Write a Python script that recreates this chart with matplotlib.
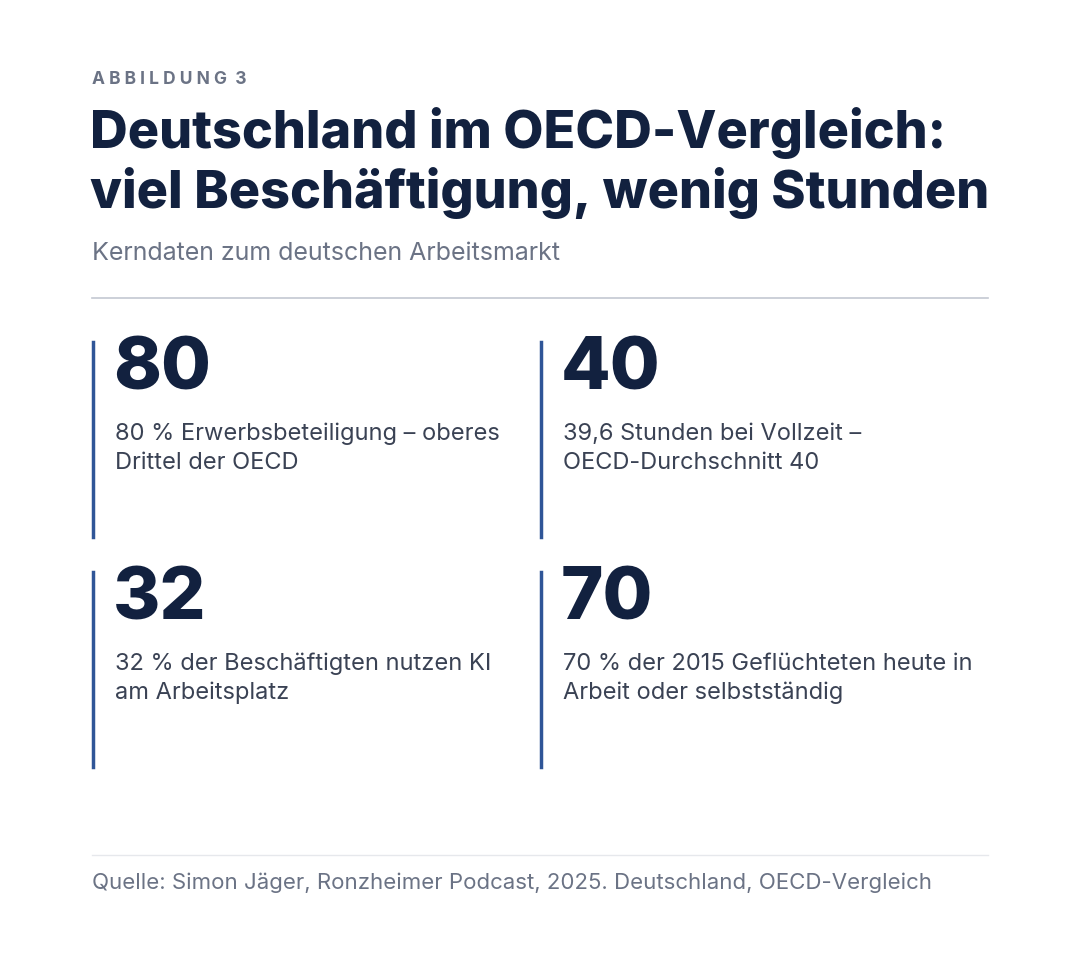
import matplotlib
matplotlib.use("Agg")
import matplotlib.pyplot as plt
from matplotlib.lines import Line2D

W, H = 1080, 958
kicker = "ABBILDUNG 3"
title_lines = ["Deutschland im OECD-Vergleich:", "viel Beschäftigung, wenig Stunden"]
subtitle = "Kerndaten zum deutschen Arbeitsmarkt"
numbers = ["80", "40", "32", "70"]
descriptions = [
    ["80 % Erwerbsbeteiligung – oberes", "Drittel der OECD"],
    ["39,6 Stunden bei Vollzeit –", "OECD-Durchschnitt 40"],
    ["32 % der Beschäftigten nutzen KI", "am Arbeitsplatz"],
    ["70 % der 2015 Geflüchteten heute in", "Arbeit oder selbstständig"],
]
source = "Quelle: Simon Jäger, Ronzheimer Podcast, 2025. Deutschland, OECD-Vergleich"

NAVY = "#12213f"
GRAY = "#6b7385"
BODY = "#3a4254"
BLUE = "#2f5597"

fig = plt.figure(figsize=(W/100, H/100), dpi=100)
fig.patch.set_facecolor("white")
plt.rcParams['font.family'] = ['Inter', 'DejaVu Sans']

def X(x): return x / W
def Y(y): return 1 - y / H

def txt(x, y, s, **kw):
    fig.text(X(x), Y(y), s, va="center", ha="left", **kw)

txt(92, 79, " ".join(kicker).replace("G   3", "G  3"), fontsize=12.5, fontweight="bold", color=GRAY)
for i, line in enumerate(title_lines):
    txt(90, 133 + 60*i, line, fontsize=37.5, fontweight="heavy", color=NAVY)
txt(92, 253, subtitle, fontsize=18, color=GRAY)

def hline(y, c, lw):
    fig.add_artist(Line2D([X(92), X(988)], [Y(y), Y(y)], color=c, lw=lw))
hline(298, "#c3c8d2", 1.2)
hline(855, "#e6e8ec", 1.0)

positions = [(93, 342), (541, 342), (93, 572), (541, 572)]
for (bx, by), num, desc in zip(positions, numbers, descriptions):
    fig.add_artist(Line2D([X(bx), X(bx)], [Y(by), Y(by+195)], color=BLUE, lw=2.5))
    txt(bx + 20, by + 28, num, fontsize=52, fontweight="heavy", color=NAVY)
    for j, d in enumerate(desc):
        txt(bx + 22, by + 92 + 29*j, d, fontsize=17, color=BODY)

txt(92, 883, source, fontsize=16, color=GRAY)

fig.savefig("out.png", dpi=100, facecolor="white")
